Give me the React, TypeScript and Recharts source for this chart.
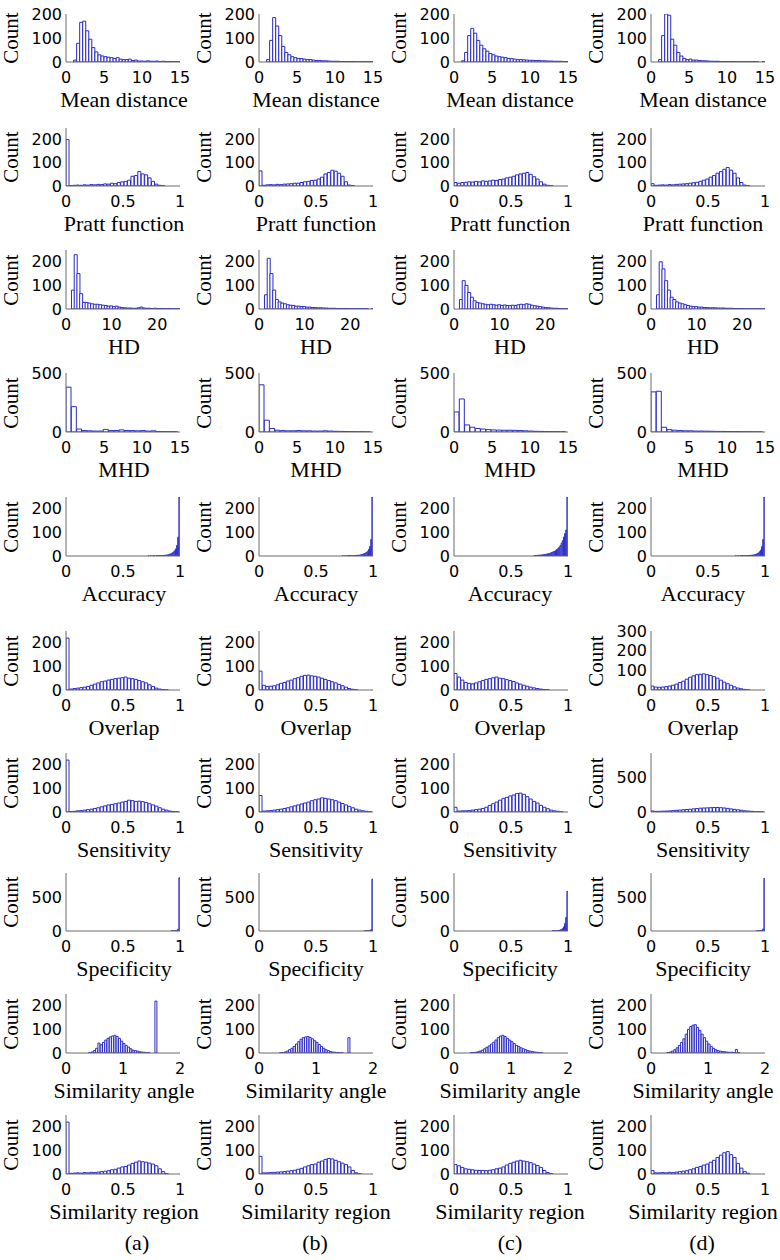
import { Bar, BarChart, XAxis, YAxis } from 'recharts';

// bin centres
const X_MD = [1.2, 1.6, 2.0, 2.4, 2.8, 3.2, 3.6, 4.0, 4.4, 4.8, 5.2, 5.6, 6.0, 6.4, 6.8, 7.2, 7.6, 8.0, 8.4, 8.8, 9.2, 9.6, 10.0, 10.4, 10.8, 11.2, 11.6, 12.0, 12.4, 12.8, 13.2, 13.6, 14.0, 14.4, 14.8];
const X_UNIT = [0.015, 0.045, 0.075, 0.105, 0.135, 0.165, 0.195, 0.225, 0.255, 0.285, 0.315, 0.345, 0.375, 0.405, 0.435, 0.465, 0.495, 0.525, 0.555, 0.585, 0.615, 0.645, 0.675, 0.705, 0.735, 0.765, 0.795, 0.825, 0.855, 0.885, 0.915, 0.945, 0.975];
const X_HD = [1.5, 2.1, 2.7, 3.3, 3.9, 4.5, 5.1, 5.7, 6.3, 6.9, 7.5, 8.1, 8.7, 9.3, 9.9, 10.5, 11.1, 11.7, 12.3, 12.9, 13.5, 14.1, 14.7, 15.3, 15.9, 16.5, 17.1, 17.7, 18.3, 18.9, 19.5, 20.1, 20.7, 21.3, 21.9, 22.5, 23.1, 23.7, 24.3, 24.9];
const X_MHD = [0.35, 1.05, 1.75, 2.45, 3.15, 3.85, 4.55, 5.25, 5.95, 6.65, 7.35, 8.05, 8.75, 9.45, 10.15, 10.85, 11.55, 12.25, 12.95, 13.65, 14.35];
const X_HIGH = [0.705, 0.715, 0.725, 0.735, 0.745, 0.755, 0.765, 0.775, 0.785, 0.795, 0.805, 0.815, 0.825, 0.835, 0.845, 0.855, 0.865, 0.875, 0.885, 0.895, 0.905, 0.915, 0.925, 0.935, 0.945, 0.955, 0.965, 0.975, 0.985, 0.995];
const X_ANG = [0.30, 0.34, 0.38, 0.42, 0.46, 0.50, 0.54, 0.58, 0.62, 0.66, 0.70, 0.74, 0.78, 0.82, 0.86, 0.90, 0.94, 0.98, 1.02, 1.06, 1.10, 1.14, 1.18, 1.22, 1.26, 1.30, 1.34, 1.38, 1.42, 1.46, 1.50, 1.54, 1.58];

// counts, columns (a)-(d)
const MD_A = [8, 78, 165, 170, 130, 95, 60, 42, 30, 25, 22, 20, 18, 15, 18, 12, 10, 10, 12, 6, 8, 4, 4, 3, 5, 3, 3, 4, 2, 3, 2, 2, 1, 1, 1];
const MD_B = [10, 90, 185, 150, 110, 65, 40, 30, 22, 18, 15, 14, 12, 10, 10, 8, 6, 6, 5, 5, 4, 3, 3, 3, 2, 2, 2, 2, 2, 1, 1, 1, 1, 1, 1];
const MD_C = [5, 40, 110, 140, 120, 90, 70, 55, 45, 35, 30, 25, 22, 20, 18, 15, 14, 12, 10, 10, 9, 8, 7, 7, 6, 6, 5, 5, 4, 4, 3, 3, 3, 2, 2];
const MD_D = [10, 110, 200, 195, 95, 70, 40, 25, 15, 10, 12, 8, 8, 6, 5, 5, 4, 3, 3, 3, 2, 2, 2, 2, 2, 1, 1, 1, 1, 1, 1, 1, 1, 0, 1];

const PRATT_A = [200, 2, 3, 4, 3, 5, 4, 6, 5, 7, 6, 9, 8, 12, 10, 15, 18, 20, 25, 42, 45, 62, 52, 48, 35, 20, 8, 3, 1, 0, 0, 0, 0];
const PRATT_B = [65, 3, 5, 6, 5, 7, 6, 8, 9, 10, 12, 12, 15, 18, 20, 24, 25, 30, 38, 52, 58, 68, 64, 55, 42, 18, 4, 1, 0, 0, 0, 0, 0];
const PRATT_C = [15, 12, 15, 16, 18, 17, 20, 18, 22, 20, 22, 25, 24, 28, 30, 35, 38, 42, 48, 52, 55, 58, 50, 40, 30, 18, 8, 3, 1, 0, 0, 0, 0];
const PRATT_D = [10, 3, 4, 5, 4, 6, 5, 7, 8, 9, 10, 12, 14, 16, 20, 25, 30, 38, 45, 55, 62, 72, 80, 68, 55, 35, 15, 4, 1, 0, 0, 0, 0];

const HD_A = [80, 230, 150, 65, 28, 28, 25, 22, 20, 20, 18, 16, 15, 12, 13, 10, 12, 8, 6, 5, 4, 4, 3, 3, 5, 8, 4, 3, 3, 2, 3, 2, 2, 2, 1, 2, 1, 1, 1, 1];
const HD_B = [60, 215, 150, 80, 40, 30, 25, 22, 18, 16, 15, 12, 12, 10, 10, 8, 8, 6, 6, 5, 5, 4, 4, 3, 3, 3, 2, 2, 2, 2, 2, 1, 1, 1, 1, 1, 1, 1, 0, 1];
const HD_C = [40, 120, 100, 70, 50, 35, 28, 25, 22, 20, 18, 20, 18, 16, 18, 15, 17, 15, 14, 16, 15, 18, 20, 18, 22, 20, 16, 14, 12, 10, 8, 6, 5, 4, 3, 3, 2, 2, 1, 1];
const HD_D = [60, 200, 170, 120, 80, 50, 40, 30, 25, 22, 18, 15, 12, 10, 10, 8, 8, 6, 6, 5, 5, 5, 4, 4, 4, 3, 3, 3, 2, 2, 2, 2, 1, 1, 1, 1, 1, 1, 1, 1];

const MHD_A = [380, 215, 25, 12, 10, 8, 8, 22, 12, 12, 18, 12, 12, 10, 12, 8, 10, 4, 3, 2, 2];
const MHD_B = [400, 100, 30, 15, 12, 10, 10, 12, 10, 10, 8, 8, 10, 8, 6, 5, 4, 3, 2, 2, 1];
const MHD_C = [170, 280, 60, 40, 30, 25, 20, 18, 16, 15, 15, 14, 12, 10, 8, 6, 5, 4, 3, 2, 2];
const MHD_D = [340, 345, 40, 20, 15, 12, 10, 10, 8, 8, 7, 6, 5, 5, 4, 3, 3, 2, 2, 1, 1];

const ACC_A = [0, 0, 1, 0, 1, 0, 1, 1, 0, 1, 1, 1, 2, 1, 2, 2, 3, 3, 4, 5, 6, 8, 10, 13, 17, 22, 30, 45, 80, 250];
const ACC_B = [0, 0, 0, 1, 0, 1, 0, 1, 1, 1, 1, 1, 1, 2, 2, 2, 3, 3, 4, 5, 6, 8, 10, 12, 15, 20, 28, 40, 70, 250];
const ACC_C = [1, 2, 2, 3, 3, 4, 4, 5, 5, 6, 7, 8, 9, 10, 12, 14, 16, 18, 20, 24, 28, 32, 38, 45, 55, 65, 80, 95, 110, 250];
const ACC_D = [0, 0, 0, 0, 1, 0, 1, 0, 1, 1, 1, 1, 1, 1, 2, 2, 2, 3, 3, 4, 5, 6, 8, 10, 13, 18, 25, 40, 70, 250];

const OVERLAP_A = [220, 4, 6, 8, 10, 12, 15, 20, 25, 30, 35, 38, 42, 45, 48, 50, 52, 55, 50, 48, 45, 40, 35, 30, 22, 15, 8, 4, 2, 1, 0, 0, 0];
const OVERLAP_B = [80, 20, 15, 16, 18, 22, 28, 32, 38, 42, 48, 52, 58, 62, 63, 60, 58, 55, 50, 45, 40, 35, 30, 24, 18, 12, 6, 3, 1, 0, 0, 0, 0];
const OVERLAP_C = [70, 55, 42, 32, 28, 26, 30, 35, 40, 45, 48, 52, 55, 50, 48, 44, 40, 36, 30, 25, 20, 16, 12, 9, 6, 4, 2, 1, 0, 0, 0, 0, 0];
const OVERLAP_D = [20, 15, 14, 15, 17, 20, 24, 30, 38, 45, 55, 65, 72, 78, 80, 82, 78, 74, 68, 60, 50, 40, 32, 24, 16, 10, 6, 3, 1, 0, 0, 0, 0];

const SENS_A = [220, 2, 3, 5, 6, 8, 10, 12, 15, 18, 22, 26, 30, 32, 35, 38, 42, 45, 50, 48, 45, 46, 44, 40, 35, 30, 25, 18, 12, 8, 4, 2, 1];
const SENS_B = [70, 4, 5, 6, 8, 10, 12, 15, 18, 22, 26, 30, 34, 38, 42, 48, 52, 55, 60, 58, 55, 52, 48, 42, 36, 30, 24, 18, 12, 8, 5, 3, 1];
const SENS_C = [20, 4, 5, 5, 6, 8, 10, 12, 15, 20, 28, 35, 42, 50, 58, 62, 68, 72, 78, 80, 75, 65, 55, 45, 38, 28, 20, 14, 8, 5, 3, 1, 0];
const SENS_D = [15, 10, 10, 12, 14, 16, 20, 24, 28, 32, 36, 40, 45, 50, 55, 58, 60, 62, 65, 65, 62, 58, 52, 45, 38, 32, 25, 18, 14, 10, 6, 4, 2];

const SPEC_A = [0, 0, 0, 0, 0, 0, 0, 0, 0, 0, 0, 0, 0, 0, 0, 0, 0, 0, 0, 0, 0, 0, 1, 1, 2, 3, 5, 10, 25, 780];
const SPEC_B = [0, 0, 0, 0, 0, 0, 0, 0, 0, 0, 0, 0, 0, 0, 0, 0, 0, 0, 0, 0, 0, 0, 1, 1, 2, 3, 4, 8, 20, 760];
const SPEC_C = [0, 0, 0, 0, 0, 0, 0, 0, 0, 0, 0, 0, 0, 0, 0, 0, 1, 2, 2, 3, 5, 8, 10, 15, 22, 35, 60, 110, 200, 580];
const SPEC_D = [0, 0, 0, 0, 0, 0, 0, 0, 0, 0, 0, 0, 0, 0, 0, 0, 0, 0, 0, 0, 0, 0, 1, 1, 2, 3, 5, 10, 30, 770];

const ANG_A = [0, 0, 0, 2, 4, 10, 20, 42, 35, 45, 55, 62, 68, 72, 75, 70, 62, 50, 40, 32, 25, 18, 12, 10, 8, 5, 4, 3, 2, 1, 0, 0, 220];
const ANG_B = [0, 0, 1, 2, 4, 8, 14, 20, 28, 38, 48, 58, 65, 68, 70, 66, 60, 52, 45, 36, 28, 20, 14, 10, 6, 4, 3, 2, 1, 1, 0, 0, 65];
const ANG_C = [1, 2, 3, 5, 8, 12, 18, 24, 30, 38, 46, 55, 65, 72, 75, 70, 62, 55, 48, 40, 32, 28, 22, 18, 14, 10, 8, 6, 4, 3, 2, 1, 0];
const ANG_D = [2, 4, 8, 14, 22, 32, 45, 60, 80, 100, 112, 118, 120, 108, 95, 80, 65, 50, 38, 28, 20, 14, 10, 8, 6, 5, 4, 3, 3, 2, 15, 2, 0];

const SREG_A = [220, 3, 4, 5, 4, 6, 5, 7, 6, 8, 10, 12, 14, 18, 20, 25, 30, 32, 38, 45, 50, 55, 52, 50, 46, 42, 35, 22, 10, 2, 0, 0, 0];
const SREG_B = [75, 5, 5, 6, 7, 8, 9, 10, 12, 14, 16, 20, 24, 30, 35, 40, 42, 50, 55, 62, 66, 64, 58, 52, 46, 40, 30, 15, 5, 1, 0, 0, 0];
const SREG_C = [40, 35, 28, 22, 20, 18, 16, 15, 15, 14, 16, 18, 22, 25, 30, 38, 45, 50, 55, 58, 55, 52, 48, 42, 36, 28, 15, 6, 2, 0, 0, 0, 0];
const SREG_D = [15, 5, 5, 6, 5, 7, 6, 8, 10, 12, 14, 18, 22, 28, 32, 38, 42, 50, 58, 70, 80, 90, 95, 82, 70, 45, 25, 10, 3, 0, 0, 0, 0];

// tick labels
const XT_15 = [0, 5, 10, 15];
const XT_1 = [0, 0.5, 1];
const XT_25 = [0, 10, 20];
const XT_2 = [0, 1, 2];
const YT_200 = [0, 100, 200];
const YT_300 = [0, 100, 200, 300];
const YT_500 = [0, 500];

const PANEL_TAGS = ['(a)', '(b)', '(c)', '(d)'];

const SANS = '"DejaVu Sans", Verdana, sans-serif';
const SERIF = '"Liberation Serif", "Times New Roman", serif';
const BLUE = '#2a2ac8';
const FRAME = '#6a6a6a';

const COL_LEFT = [66, 259, 454, 651];
const LABEL_X = [124, 316, 510, 703];
const TAG_X = [137, 315, 510, 702];
const BOX_W = 114;
const PAD_L = 60;
const PAD_R = 14;
const PAD_T = 10;
const PAD_B = 40;

interface RowSpec {
  label: string;
  top: number;
  h: number;
  xs: number[];
  xDomain: [number, number];
  xTicks: number[];
  series: number[][];
  yMax: number[];
  yTicks: number[][];
}

const ROWS: RowSpec[] = [
  { label: 'Mean distance', top: 14, h: 48, xs: X_MD, xDomain: [0, 15], xTicks: XT_15, series: [MD_A, MD_B, MD_C, MD_D], yMax: [200, 200, 200, 200], yTicks: [YT_200, YT_200, YT_200, YT_200] },
  { label: 'Pratt function', top: 128, h: 58, xs: X_UNIT, xDomain: [0, 1], xTicks: XT_1, series: [PRATT_A, PRATT_B, PRATT_C, PRATT_D], yMax: [250, 250, 250, 250], yTicks: [YT_200, YT_200, YT_200, YT_200] },
  { label: 'HD', top: 250, h: 59, xs: X_HD, xDomain: [0, 25], xTicks: XT_25, series: [HD_A, HD_B, HD_C, HD_D], yMax: [250, 250, 250, 250], yTicks: [YT_200, YT_200, YT_200, YT_200] },
  { label: 'MHD', top: 373, h: 59, xs: X_MHD, xDomain: [0, 15], xTicks: XT_15, series: [MHD_A, MHD_B, MHD_C, MHD_D], yMax: [500, 500, 500, 500], yTicks: [YT_500, YT_500, YT_500, YT_500] },
  { label: 'Accuracy', top: 497, h: 59, xs: X_HIGH, xDomain: [0, 1], xTicks: XT_1, series: [ACC_A, ACC_B, ACC_C, ACC_D], yMax: [250, 250, 250, 250], yTicks: [YT_200, YT_200, YT_200, YT_200] },
  { label: 'Overlap', top: 631, h: 59, xs: X_UNIT, xDomain: [0, 1], xTicks: XT_1, series: [OVERLAP_A, OVERLAP_B, OVERLAP_C, OVERLAP_D], yMax: [250, 250, 250, 300], yTicks: [YT_200, YT_200, YT_200, YT_300] },
  { label: 'Sensitivity', top: 753, h: 59, xs: X_UNIT, xDomain: [0, 1], xTicks: XT_1, series: [SENS_A, SENS_B, SENS_C, SENS_D], yMax: [250, 250, 250, 850], yTicks: [YT_200, YT_200, YT_200, YT_500] },
  { label: 'Specificity', top: 873, h: 58, xs: X_HIGH, xDomain: [0, 1], xTicks: XT_1, series: [SPEC_A, SPEC_B, SPEC_C, SPEC_D], yMax: [850, 850, 850, 850], yTicks: [YT_500, YT_500, YT_500, YT_500] },
  { label: 'Similarity angle', top: 994, h: 59, xs: X_ANG, xDomain: [0, 2], xTicks: XT_2, series: [ANG_A, ANG_B, ANG_C, ANG_D], yMax: [250, 250, 250, 250], yTicks: [YT_200, YT_200, YT_200, YT_200] },
  { label: 'Similarity region', top: 1115, h: 59, xs: X_UNIT, xDomain: [0, 1], xTicks: XT_1, series: [SREG_A, SREG_B, SREG_C, SREG_D], yMax: [250, 250, 250, 250], yTicks: [YT_200, YT_200, YT_200, YT_200] },
];

const tickStyle = { fill: '#000', fontSize: 16, fontFamily: SANS };

interface HistProps {
  left: number;
  row: RowSpec;
  col: number;
}

function Hist({ left, row, col }: HistProps) {
  const counts = row.series[col];
  const data = row.xs.map((x, i) => ({ x, count: counts[i] }));
  const yDomain: [number, number] = [0, row.yMax[col]];
  return (
    <div style={{ position: 'absolute', left: left - PAD_L, top: row.top - PAD_T }}>
      <BarChart
        width={PAD_L + BOX_W + PAD_R}
        height={PAD_T + row.h + PAD_B}
        data={data}
        margin={{ top: PAD_T, right: PAD_R, left: 0, bottom: 0 }}
        barCategoryGap={0}
        barGap={0}
      >
        <XAxis
          dataKey="x"
          type="number"
          domain={row.xDomain}
          ticks={row.xTicks}
          interval={0}
          allowDataOverflow
          height={PAD_B}
          tickSize={0}
          tickMargin={10}
          tickLine={false}
          axisLine={{ stroke: FRAME }}
          tick={tickStyle}
        />
        <XAxis
          xAxisId="top"
          orientation="top"
          dataKey="x"
          type="number"
          domain={row.xDomain}
          allowDataOverflow
          height={0}
          tick={false}
          tickLine={false}
          axisLine={{ stroke: FRAME }}
        />
        <YAxis
          domain={yDomain}
          ticks={row.yTicks[col]}
          interval={0}
          allowDataOverflow
          width={PAD_L}
          tickSize={0}
          tickMargin={4}
          tickLine={false}
          axisLine={{ stroke: FRAME }}
          tick={tickStyle}
        />
        <YAxis
          yAxisId="right"
          orientation="right"
          domain={yDomain}
          allowDataOverflow
          width={0}
          tick={false}
          tickLine={false}
          axisLine={{ stroke: FRAME }}
        />
        <Bar dataKey="count" fill="#ffffff" stroke={BLUE} strokeWidth={1} isAnimationActive={false} />
      </BarChart>
    </div>
  );
}

export default function App() {
  return (
    <div style={{ position: 'absolute', left: 0, top: 0, width: 780, height: 1260, background: '#fff', overflow: 'hidden' }}>
      {ROWS.map((row, r) =>
        COL_LEFT.map((left, c) => (
          <div key={`${r}-${c}`}>
            <Hist left={left} row={row} col={c} />
            <div
              style={{
                position: 'absolute',
                left: left - 55,
                top: row.top + row.h / 2,
                transform: 'translate(-50%, -50%) rotate(-90deg)',
                fontFamily: SERIF,
                fontSize: 21,
                lineHeight: 1,
                whiteSpace: 'nowrap',
              }}
            >
              Count
            </div>
            <div
              style={{
                position: 'absolute',
                left: LABEL_X[c],
                top: row.top + row.h + 38,
                transform: 'translate(-50%, -50%)',
                fontFamily: SERIF,
                fontSize: 22,
                lineHeight: 1,
                whiteSpace: 'nowrap',
              }}
            >
              {row.label}
            </div>
          </div>
        ))
      )}
      {PANEL_TAGS.map((tag, c) => (
        <div
          key={tag}
          style={{
            position: 'absolute',
            left: TAG_X[c],
            top: 1243,
            transform: 'translate(-50%, -50%)',
            fontFamily: SERIF,
            fontSize: 22,
            lineHeight: 1,
          }}
        >
          {tag}
        </div>
      ))}
    </div>
  );
}
